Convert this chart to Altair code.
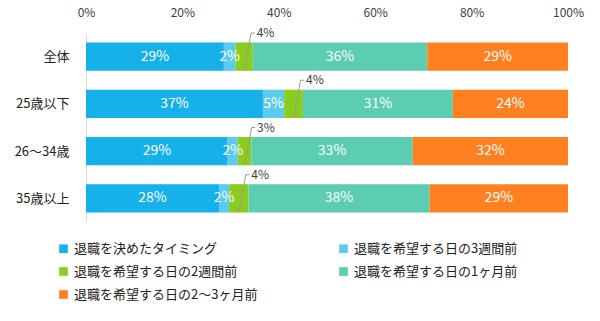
import altair as alt
import pandas as pd

categories = ["全体", "25歳以下", "26〜34歳", "35歳以上"]
series = [
    "退職を決めたタイミング",
    "退職を希望する日の3週間前",
    "退職を希望する日の2週間前",
    "退職を希望する日の1ヶ月前",
    "退職を希望する日の2〜3ヶ月前",
]
colors = ["#16B0EA", "#5DCBF0", "#8ACD1E", "#5CCDB0", "#FF8020"]

# segment widths (%)
s_timing = [28.6, 36.7, 29.4, 27.6]
s_3w = [2.4, 4.4, 2.1, 2.1]
s_2w = [3.6, 3.9, 2.8, 4.0]
s_1m = [36.2, 31.1, 33.5, 37.6]
s_23m = [29.2, 23.9, 32.2, 28.7]
# printed labels
l_timing = [29, 37, 29, 28]
l_3w = [2, 5, 2, 2]
l_2w = [4, 4, 3, 4]
l_1m = [36, 31, 33, 38]
l_23m = [29, 24, 32, 29]

vals = [s_timing, s_3w, s_2w, s_1m, s_23m]
labs = [l_timing, l_3w, l_2w, l_1m, l_23m]

rows = []
for ci, cat in enumerate(categories):
    cum = 0.0
    for si, name in enumerate(series):
        v = vals[si][ci]
        rows.append(dict(cat=cat, row=ci, series=name, order=si,
                         start=cum, end=cum + v, mid=cum + v / 2,
                         label=f"{labs[si][ci]}%",
                         y0=ci - 0.3, y1=ci + 0.3, ytop=ci - 0.5,
                         xl1=cum + v / 2 + 1.45, xl2=cum + v / 2 + 2.2,
                         xt=cum + v / 2 + 2.6))
        cum += v
df = pd.DataFrame(rows)

JP = "Noto Sans CJK JP"
label_expr = "[" + ",".join(f"'{c}'" for c in categories) + "][datum.value]"

xscale = alt.Scale(domain=[0, 100], nice=False)
yscale = alt.Scale(domain=[-0.5, 3.5], reverse=True, nice=False, zero=False)

base = alt.Chart(df)

bars = base.mark_bar(cornerRadius=0).encode(
    x=alt.X("start:Q", scale=xscale, title=None,
            axis=alt.Axis(orient="top", values=[0, 20, 40, 60, 80, 100],
                          labelExpr="datum.value + '%'", grid=False, ticks=False,
                          tickSize=0, domain=False, labelPadding=14, labelFlush=False,
                          labelFontSize=12, labelColor="#404040", labelFont=JP)),
    x2="end:Q",
    y=alt.Y("y0:Q", scale=yscale, title=None,
            axis=alt.Axis(values=[0, 1, 2, 3], labelExpr=label_expr, grid=False,
                          ticks=False, tickSize=0, domain=True, domainColor="#D9D9D9",
                          labelPadding=17, labelFontSize=13, labelColor="#222222",
                          labelFont=JP)),
    y2="y1:Q",
    color=alt.Color("series:N", sort=series,
                    scale=alt.Scale(domain=series, range=colors),
                    legend=alt.Legend(title=None, orient="none", legendX=-29, legendY=209,
                                      direction="horizontal", columns=2,
                                      symbolType="square", symbolSize=75,
                                      symbolStrokeWidth=0, labelFontSize=13,
                                      labelFont=JP, labelColor="#222222",
                                      columnPadding=79, rowPadding=9,
                                      labelLimit=300, symbolOffset=0)),
    order="order:Q",
)

inside = base.transform_filter("datum.order != 2").mark_text(
    color="white", fontSize=14, font=JP, align="center", baseline="middle"
).encode(x=alt.X("mid:Q", scale=xscale), y=alt.Y("row:Q", scale=yscale), text="label:N")

green = base.transform_filter("datum.order == 2")
lead1 = green.mark_rule(color="#999999", strokeWidth=1).encode(
    x=alt.X("mid:Q", scale=xscale), x2="xl1:Q",
    y=alt.Y("y1:Q", scale=yscale), y2="ytop:Q")
lead2 = green.mark_rule(color="#999999", strokeWidth=1).encode(
    x=alt.X("xl1:Q", scale=xscale), x2="xl2:Q",
    y=alt.Y("ytop:Q", scale=yscale))
outside = green.mark_text(color="#404040", fontSize=12, font=JP, align="left",
                          baseline="middle").encode(
    x=alt.X("xt:Q", scale=xscale), y=alt.Y("ytop:Q", scale=yscale), text="label:N")

chart = alt.layer(bars, lead1, lead2, inside, outside).properties(
    width=482, height=189,
    autosize=alt.AutoSizeParams(type="none"),
    padding={"left": 86, "top": 33, "right": 32, "bottom": 99},
    background="white",
).configure_view(stroke=None)

chart.save("out.html", embed_options={"renderer": "svg", "actions": False})
